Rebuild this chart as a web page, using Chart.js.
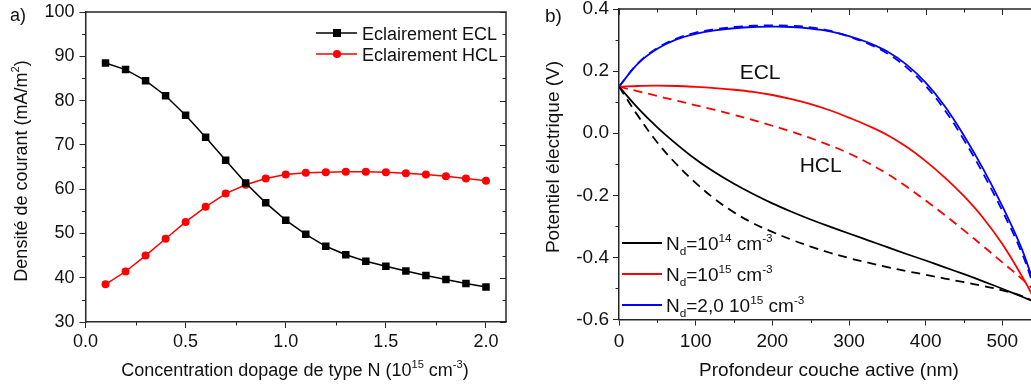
<!DOCTYPE html>
<html>
<head>
<meta charset="utf-8">
<script src="https://cdn.jsdelivr.net/npm/chart.js@4.4.0/dist/chart.umd.min.js"></script>
<style>
  html, body { margin: 0; padding: 0; background: #fff; overflow: hidden; }
  #wrap { position: relative; width: 1031px; height: 388px; overflow: hidden; }
  canvas { position: absolute; top: 0; }
  #chartA { left: 0; }
  #chartB { left: 520px; }
</style>
</head>
<body>
<div id="wrap">
  <canvas id="chartA" width="520" height="388"></canvas>
  <canvas id="chartB" width="516" height="388"></canvas>
</div>
<script>
// ---- panel a: current density vs N doping ----
const dopage = [0.1, 0.2, 0.3, 0.4, 0.5, 0.6, 0.7, 0.8, 0.9, 1.0, 1.1, 1.2, 1.3, 1.4, 1.5, 1.6, 1.7, 1.8, 1.9, 2.0];
const courantEcl = [88.5, 87.0, 84.5, 81.1, 76.7, 71.7, 66.5, 61.4, 56.9, 53.0, 49.8, 47.1, 45.2, 43.7, 42.6, 41.5, 40.5, 39.6, 38.7, 37.9];
const courantHcl = [38.5, 41.4, 45.0, 48.8, 52.6, 56.0, 59.0, 61.0, 62.4, 63.3, 63.7, 63.8, 63.9, 63.9, 63.8, 63.6, 63.3, 62.9, 62.4, 61.9];
const xTicksA = [0, 0.5, 1.0, 1.5, 2.0];
const xMinorA = [0.25, 0.75, 1.25, 1.75];
const yTicksA = [30, 40, 50, 60, 70, 80, 90, 100];
const yMinorA = [35, 45, 55, 65, 75, 85, 95];

// ---- panel b: potential vs depth ----
const profondeur = [0, 25, 50, 75, 100, 125, 150, 175, 200, 225, 250, 275, 300, 325, 350, 375, 400, 425, 450, 475, 500, 525, 540];
const nd14Ecl = [0.15, 0.08, 0.019, -0.035, -0.084, -0.126, -0.163, -0.196, -0.226, -0.253, -0.278, -0.301, -0.323, -0.345, -0.367, -0.389, -0.41, -0.432, -0.454, -0.477, -0.501, -0.526, -0.541];
const nd14Hcl = [0.15, 0.055, -0.03, -0.1, -0.16, -0.212, -0.255, -0.29, -0.318, -0.343, -0.365, -0.385, -0.402, -0.417, -0.431, -0.444, -0.456, -0.468, -0.48, -0.492, -0.506, -0.524, -0.54];
const nd15Ecl = [0.15, 0.152, 0.153, 0.152, 0.149, 0.145, 0.14, 0.133, 0.123, 0.11, 0.094, 0.074, 0.05, 0.024, -0.006, -0.044, -0.09, -0.143, -0.203, -0.273, -0.357, -0.458, -0.525];
const nd15Hcl = [0.15, 0.135, 0.12, 0.105, 0.09, 0.075, 0.059, 0.042, 0.024, 0.005, -0.016, -0.039, -0.065, -0.096, -0.131, -0.172, -0.217, -0.264, -0.313, -0.364, -0.416, -0.468, -0.502];
const nd20Ecl = [0.15, 0.225, 0.272, 0.302, 0.32, 0.331, 0.338, 0.342, 0.343, 0.342, 0.337, 0.328, 0.313, 0.292, 0.263, 0.221, 0.163, 0.087, -0.008, -0.115, -0.235, -0.37, -0.475];
const nd20Hcl = [0.15, 0.226, 0.274, 0.305, 0.324, 0.335, 0.342, 0.346, 0.347, 0.346, 0.341, 0.33, 0.311, 0.288, 0.257, 0.212, 0.152, 0.074, -0.022, -0.13, -0.25, -0.383, -0.485];
const xTicksB = [0, 100, 200, 300, 400, 500];
const xMinorB = [50, 150, 250, 350, 450];
const yTicksB = [-0.6, -0.4, -0.2, 0.0, 0.2, 0.4];
const yMinorB = [-0.5, -0.3, -0.1, 0.1, 0.3];

const legendB = [
    [['N', ''], ['d', 'sub'], ['=10', ''], ['14', 'sup'], [' cm', ''], ['-3', 'sup']],
    [['N', ''], ['d', 'sub'], ['=10', ''], ['15', 'sup'], [' cm', ''], ['-3', 'sup']],
    [['N', ''], ['d', 'sub'], ['=2,0 10', ''], ['15', 'sup'], [' cm', ''], ['-3', 'sup']]
];

const FONT = '"Liberation Sans", Arial, sans-serif';
const AXIS = '#262626';

const pts = (xs, ys) => xs.map((x, i) => ({ x, y: ys[i] }));

// rich text with sub/superscripts
function richWidth(ctx, parts, size) {
    let w = 0;
    for (const [t, m] of parts) {
        ctx.font = `${m ? size * 0.62 : size}px ${FONT}`;
        w += ctx.measureText(t).width;
    }
    return w;
}

function drawRich(ctx, parts, x, y, size, align) {
    const w = richWidth(ctx, parts, size);
    let cx = align === 'center' ? x - w / 2 : x;
    ctx.textAlign = 'left';
    ctx.textBaseline = 'alphabetic';
    ctx.fillStyle = '#111';
    for (const [t, m] of parts) {
        const s = m ? size * 0.62 : size;
        ctx.font = `${s}px ${FONT}`;
        const dy = m === 'sup' ? -size * 0.42 : (m === 'sub' ? size * 0.28 : 0);
        ctx.fillText(t, cx, y + dy);
        cx += ctx.measureText(t).width;
    }
}

function ticksY(ctx, scale, vals, x0, len) {
    ctx.beginPath();
    vals.forEach(v => {
        const p = Math.round(scale.getPixelForValue(v)) + 0.5;
        ctx.moveTo(x0, p);
        ctx.lineTo(x0 + len, p);
    });
    ctx.stroke();
}

function ticksX(ctx, scale, vals, y0, len) {
    ctx.beginPath();
    vals.forEach(v => {
        const p = Math.round(scale.getPixelForValue(v)) + 0.5;
        ctx.moveTo(p, y0);
        ctx.lineTo(p, y0 + len);
    });
    ctx.stroke();
}

// no extra label padding, so the plot box sits where the layout padding says
const noPad = s => { s.paddingTop = 0; s.paddingBottom = 0; s.paddingLeft = 0; s.paddingRight = 0; };

const axisCommon = (size, pad) => ({
    border: { display: true, color: AXIS, width: 1.5 },
    grid: { display: true, drawOnChartArea: false, drawTicks: true, tickLength: 6, color: AXIS, lineWidth: 1 },
    ticks: { color: '#111', font: { family: FONT, size }, padding: pad, maxRotation: 0, autoSkip: false }
});

// ---- chart a ----
const decorA = {
    id: 'decorA',
    afterDraw(chart) {
        const { ctx, chartArea: a, scales: { x, y } } = chart;
        ctx.save();
        ctx.strokeStyle = AXIS;
        ctx.lineWidth = 1.5;
        ctx.beginPath();
        ctx.moveTo(a.left, a.top);
        ctx.lineTo(a.right, a.top);
        ctx.lineTo(a.right, a.bottom);
        ctx.stroke();
        ctx.lineWidth = 1;
        ticksY(ctx, y, yMinorA, a.left, -3.5);
        ticksX(ctx, x, xMinorA, a.bottom, 3.5);
        ticksY(ctx, y, yTicksA, a.right, -6);
        ticksY(ctx, y, yMinorA, a.right, -3.5);

        // legend
        chart.data.datasets.forEach((ds, i) => {
            const ly = 33 + i * 21;
            ctx.strokeStyle = ds.borderColor;
            ctx.lineWidth = 1.5;
            ctx.beginPath();
            ctx.moveTo(316, ly);
            ctx.lineTo(357, ly);
            ctx.stroke();
            ctx.fillStyle = ds.backgroundColor;
            if (ds.pointStyle === 'rect') {
                ctx.fillRect(337 - 4, ly - 4, 8, 8);
            } else {
                ctx.beginPath();
                ctx.arc(337, ly, 4, 0, Math.PI * 2);
                ctx.fill();
            }
            drawRich(ctx, [[ds.label, '']], 362, ly + 6.5, 18, 'left');
        });

        // titles
        drawRich(ctx, [['Concentration dopage de type N (10', ''], ['15', 'sup'], [' cm', ''], ['-3', 'sup'], [')', '']], 295, 376, 18, 'center');
        ctx.save();
        ctx.translate(20, 171);
        ctx.rotate(-Math.PI / 2);
        drawRich(ctx, [['Densité de courant (mA/m', ''], ['2', 'sup'], [')', '']], 0, 6.5, 18, 'center');
        ctx.restore();
        drawRich(ctx, [['a)', '']], 10, 21, 18, 'left');
        ctx.restore();
    }
};

new Chart(document.getElementById('chartA'), {
    type: 'line',
    data: {
        datasets: [
            {
                label: 'Eclairement ECL',
                data: pts(dopage, courantEcl),
                borderColor: '#000',
                backgroundColor: '#000',
                borderWidth: 1.5,
                pointStyle: 'rect',
                pointRadius: 5.3,
                pointBorderWidth: 0,
                tension: 0
            },
            {
                label: 'Eclairement HCL',
                data: pts(dopage, courantHcl),
                borderColor: '#ff0000',
                backgroundColor: '#ff0000',
                borderWidth: 1.5,
                pointStyle: 'circle',
                pointRadius: 4,
                pointBorderWidth: 0,
                tension: 0
            }
        ]
    },
    options: {
        responsive: false,
        animation: false,
        layout: { autoPadding: false, padding: { top: 12, right: 14, left: 0, bottom: 0 } },
        plugins: { legend: { display: false }, tooltip: { enabled: false } },
        scales: {
            x: {
                type: 'linear', min: 0, max: 2.1,
                ...axisCommon(18, 3),
                afterBuildTicks: s => { s.ticks = xTicksA.map(v => ({ value: v })); },
                afterFit: s => { s.height = 66; noPad(s); },
                ticks: { ...axisCommon(18, 3).ticks, callback: v => v.toFixed(1) }
            },
            y: {
                type: 'linear', min: 30, max: 100,
                ...axisCommon(18, 5),
                afterBuildTicks: s => { s.ticks = yTicksA.map(v => ({ value: v })); },
                afterFit: s => { s.width = 85.5; noPad(s); },
                ticks: { ...axisCommon(18, 5).ticks, callback: v => String(v) }
            }
        }
    },
    plugins: [decorA]
});

// ---- chart b ----
const decorB = {
    id: 'decorB',
    afterDraw(chart) {
        const { ctx, chartArea: a, scales: { x, y } } = chart;
        ctx.save();
        ctx.strokeStyle = AXIS;
        ctx.lineWidth = 1.5;
        ctx.beginPath();
        ctx.moveTo(a.left, a.top);
        ctx.lineTo(a.right, a.top);
        ctx.lineTo(a.right, a.bottom);
        ctx.stroke();
        ctx.lineWidth = 1;
        ticksY(ctx, y, yMinorB, a.left, -3.5);
        ticksX(ctx, x, xMinorB, a.bottom, 3.5);
        ticksX(ctx, x, xTicksB, a.top, 6);
        ticksX(ctx, x, xMinorB, a.top, 3.5);

        // legend (solid series)
        [1, 3, 5].forEach((di, i) => {
            const ds = chart.data.datasets[di];
            const ly = 243 + i * 31;
            ctx.strokeStyle = ds.borderColor;
            ctx.lineWidth = 2;
            ctx.beginPath();
            ctx.moveTo(102, ly);
            ctx.lineTo(142, ly);
            ctx.stroke();
            drawRich(ctx, legendB[i], 146, ly + 7, 19, 'left');
        });

        // annotations
        ctx.fillStyle = '#111';
        ctx.font = `21px ${FONT}`;
        ctx.textAlign = 'center';
        ctx.textBaseline = 'middle';
        ctx.fillText('ECL', x.getPixelForValue(184), y.getPixelForValue(0.194));
        ctx.fillText('HCL', x.getPixelForValue(263), y.getPixelForValue(-0.105));

        // titles
        drawRich(ctx, [['Profondeur couche active (nm)', '']], 309, 376, 19, 'center');
        ctx.save();
        ctx.translate(32, 157);
        ctx.rotate(-Math.PI / 2);
        drawRich(ctx, [['Potentiel électrique (V)', '']], 0, 7, 19, 'center');
        ctx.restore();
        drawRich(ctx, [['b)', '']], 25, 22, 19, 'left');
        ctx.restore();
    }
};

const lineB = (label, ys, color, dashed) => ({
    label,
    data: pts(profondeur, ys),
    borderColor: color,
    backgroundColor: color,
    borderWidth: 1.8,
    borderDash: dashed ? [9, 6] : [],
    pointRadius: 0,
    tension: 0.4
});

new Chart(document.getElementById('chartB'), {
    type: 'line',
    data: {
        datasets: [
            lineB('Nd=1e14 HCL', nd14Hcl, '#000000', true),
            lineB('Nd=1e14 ECL', nd14Ecl, '#000000', false),
            lineB('Nd=1e15 HCL', nd15Hcl, '#ff0000', true),
            lineB('Nd=1e15 ECL', nd15Ecl, '#ff0000', false),
            lineB('Nd=2e15 HCL', nd20Hcl, '#0000ff', true),
            lineB('Nd=2e15 ECL', nd20Ecl, '#0000ff', false)
        ]
    },
    options: {
        responsive: false,
        animation: false,
        layout: { autoPadding: false, padding: { top: 9, right: 3, left: 0, bottom: 0 } },
        plugins: { legend: { display: false }, tooltip: { enabled: false } },
        scales: {
            x: {
                type: 'linear', min: 0, max: 540,
                ...axisCommon(19, 5),
                afterBuildTicks: s => { s.ticks = xTicksB.map(v => ({ value: v })); },
                afterFit: s => { s.height = 68.5; noPad(s); },
                ticks: { ...axisCommon(19, 5).ticks, callback: v => String(v) }
            },
            y: {
                type: 'linear', min: -0.6, max: 0.4,
                ...axisCommon(19, 4),
                afterBuildTicks: s => { s.ticks = yTicksB.map(v => ({ value: v })); },
                afterFit: s => { s.width = 99; noPad(s); },
                ticks: { ...axisCommon(19, 4).ticks, callback: v => v.toFixed(1) }
            }
        }
    },
    plugins: [decorB]
});
</script>
</body>
</html>
